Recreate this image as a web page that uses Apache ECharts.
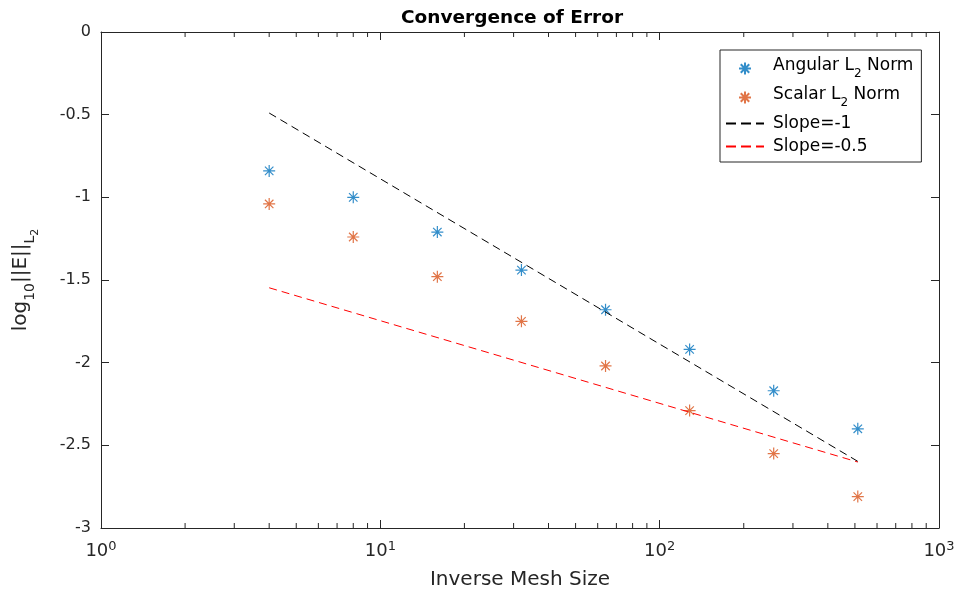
<!DOCTYPE html>
<html>
<head>
<meta charset="utf-8">
<script src="https://cdn.jsdelivr.net/npm/echarts@6/dist/echarts.min.js"></script>
<style>
  html, body { margin: 0; padding: 0; background: #fff; }
  #chart { width: 958px; height: 590px; }
</style>
</head>
<body>
<div id="chart"></div>
<script>
// Inverse mesh sizes (x) and log10 of the L2 error norms (y)
const meshInv = [4, 8, 16, 32, 64, 128, 256, 512];
const angularErr = [-0.84, -1.00, -1.21, -1.44, -1.68, -1.92, -2.17, -2.40];
const scalarErr = [-1.04, -1.24, -1.48, -1.75, -2.02, -2.29, -2.55, -2.81];
// Reference slope lines, endpoints
const slope1 = [[4, -0.49], [512, -2.597]];
const slopeHalf = [[4, -1.547], [512, -2.601]];
// Minor tick values on the log x axis
const minorTicks = [2, 3, 4, 5, 6, 7, 8, 9, 20, 30, 40, 50, 60, 70, 80, 90, 200, 300, 400, 500, 600, 700, 800, 900];

const axisColor = '#262626';
const fontFam = 'DejaVu Sans, sans-serif';
const star = 'path://M0,-10L0,10M-10,0L10,0M-7.07,-7.07L7.07,7.07M-7.07,7.07L7.07,-7.07';
const dash = [8, 5];

const chart = echarts.init(document.getElementById('chart'));

const tickLine = { show: true, inside: true, length: 8, lineStyle: { color: axisColor, width: 1 } };

function minorTickSeries(xIdx, atTop) {
  return {
    type: 'custom',
    xAxisIndex: xIdx,
    yAxisIndex: 0,
    silent: true,
    clip: false,
    data: minorTicks.map(v => [v]),
    renderItem: function (params, api) {
      const y = atTop ? 0 : -3;
      const p = api.coord([api.value(0), y]);
      const dir = atTop ? 1 : -1;
      return {
        type: 'line',
        shape: { x1: p[0], y1: p[1], x2: p[0], y2: p[1] + dir * 5 },
        style: { stroke: axisColor, lineWidth: 1 }
      };
    }
  };
}

const hiddenIcon = { color: 'rgba(0,0,0,0)', borderWidth: 0 };

chart.setOption({
  animation: false,
  backgroundColor: '#fff',
  title: {
    text: 'Convergence of Error',
    left: 507, top: 4, textAlign: 'center',
    textStyle: { fontFamily: fontFam, fontSize: 18.5, fontWeight: 'bold', color: '#000' }
  },
  grid: { left: 101, right: 19, top: 32, bottom: 62, show: false, outerBoundsMode: 'none', containLabel: false },
  legend: {
    left: 720, top: 50,
    orient: 'vertical',
    padding: [7, 8, 7, 5],
    itemWidth: 38, itemHeight: 12, itemGap: 6,
    backgroundColor: '#fff',
    borderColor: axisColor, borderWidth: 1,
    textStyle: {
      fontFamily: fontFam, fontSize: 17, color: '#000', padding: [0, 0, 0, 4],
      rich: {
        m: { fontFamily: fontFam, fontSize: 17, color: '#000', verticalAlign: 'bottom', padding: [0, 0, 6, 0] },
        s: { fontFamily: fontFam, fontSize: 12, color: '#000', verticalAlign: 'bottom', padding: [0, 0, 0, 0] }
      }
    },
    data: [
      'Angular', 'Scalar',
      { name: 'Slope=-1', itemStyle: hiddenIcon, lineStyle: { type: [10, 5] } },
      { name: 'Slope=-0.5', itemStyle: hiddenIcon, lineStyle: { type: [10, 5] } }
    ],
    formatter: function (n) {
      if (n === 'Angular') return '{m|Angular L}{s|2}{m| Norm}';
      if (n === 'Scalar') return '{m|Scalar L}{s|2}{m| Norm}';
      return n;
    }
  },
  xAxis: [
    {
      type: 'log', logBase: 10, min: 1, max: 1000,
      name: 'Inverse Mesh Size', nameLocation: 'middle', nameGap: 42,
      nameTextStyle: { fontFamily: fontFam, fontSize: 20, color: axisColor },
      axisLine: { show: true, onZero: false, lineStyle: { color: axisColor, width: 1 } },
      axisTick: tickLine,
      splitLine: { show: false },
      axisLabel: {
        margin: 12, color: axisColor, fontFamily: fontFam, fontSize: 18,
        formatter: function (v) { return '10{sup|' + Math.round(Math.log10(v)) + '}'; },
        rich: { sup: { fontFamily: fontFam, fontSize: 13, color: axisColor, verticalAlign: 'top', padding: [0, 0, 10, 0] } }
      }
    },
    {
      type: 'log', logBase: 10, min: 1, max: 1000, position: 'top',
      axisLine: { show: true, onZero: false, lineStyle: { color: axisColor, width: 1 } },
      axisTick: tickLine,
      axisLabel: { show: false },
      splitLine: { show: false }
    }
  ],
  yAxis: [
    {
      type: 'value', min: -3, max: 0, interval: 0.5,
      name: '{m|log}{s|10}{m|||E||}{s|L}{ss|2}', nameLocation: 'middle', nameGap: 60, nameRotate: 90,
      nameTextStyle: {
        fontFamily: fontFam, fontSize: 20, color: axisColor,
        rich: {
          m: { fontFamily: fontFam, fontSize: 20, color: axisColor, verticalAlign: 'bottom', padding: [0, 0, 10, 0] },
          s: { fontFamily: fontFam, fontSize: 14, color: axisColor, verticalAlign: 'bottom', padding: [0, 0, 4, 0] },
          ss: { fontFamily: fontFam, fontSize: 11, color: axisColor, verticalAlign: 'bottom', padding: [0, 0, 0, 0] }
        }
      },
      axisLine: { show: true, onZero: false, lineStyle: { color: axisColor, width: 1 } },
      axisTick: tickLine,
      splitLine: { show: false },
      axisLabel: { margin: 10, color: axisColor, fontFamily: fontFam, fontSize: 16 }
    },
    {
      type: 'value', min: -3, max: 0, interval: 0.5, position: 'right',
      axisLine: { show: true, onZero: false, lineStyle: { color: axisColor, width: 1 } },
      axisTick: tickLine,
      axisLabel: { show: false },
      splitLine: { show: false }
    }
  ],
  series: [
    {
      name: 'Angular', type: 'scatter', xAxisIndex: 0, yAxisIndex: 0,
      symbol: star, symbolSize: 12, symbolKeepAspect: true,
      itemStyle: { color: 'rgba(0,0,0,0)', borderColor: '#0072BD', borderWidth: 1.2 },
      data: meshInv.map((x, i) => [x, angularErr[i]])
    },
    {
      name: 'Scalar', type: 'scatter', xAxisIndex: 0, yAxisIndex: 0,
      symbol: star, symbolSize: 12, symbolKeepAspect: true,
      itemStyle: { color: 'rgba(0,0,0,0)', borderColor: '#D95319', borderWidth: 1.2 },
      data: meshInv.map((x, i) => [x, scalarErr[i]])
    },
    {
      name: 'Slope=-1', type: 'line', xAxisIndex: 0, yAxisIndex: 0,
      symbol: 'none', color: '#000',
      lineStyle: { color: '#000', width: 1, type: dash },
      data: slope1
    },
    {
      name: 'Slope=-0.5', type: 'line', xAxisIndex: 0, yAxisIndex: 0,
      symbol: 'none', color: '#FF0000',
      lineStyle: { color: '#FF0000', width: 1, type: dash },
      data: slopeHalf
    },
    minorTickSeries(0, false),
    minorTickSeries(1, true)
  ]
});
</script>
</body>
</html>
